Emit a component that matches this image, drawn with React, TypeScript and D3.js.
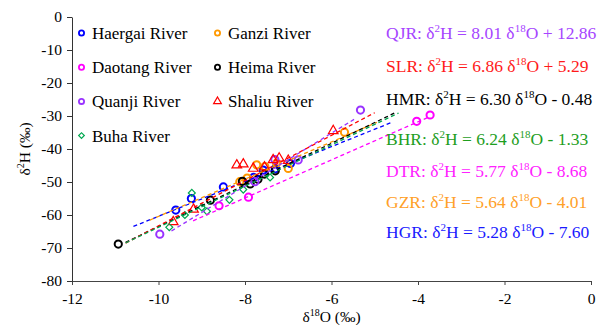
import { useRef, useEffect } from 'react';
import * as d3 from 'd3';

// river series: name, short code, colour, marker
const riverNames = ['Haergai River', 'Ganzi River', 'Daotang River', 'Heima River', 'Quanji River', 'Shaliu River', 'Buha River'];
const riverCodes = ['HGR', 'GZR', 'DTR', 'HMR', 'QJR', 'SLR', 'BHR'];
const riverColors = ['#0000FF', '#FF9900', '#FF00FF', '#000000', '#9933FF', '#FF0000', '#00A850'];
const riverShapes = ['circle', 'circle', 'circle', 'circle', 'circle', 'triangle', 'diamond'];

// d18O, d2H samples
const haergaiPoints = [[-9.6, -58.5], [-9.24, -55.0], [-8.5, -51.5], [-7.8, -48.6], [-7.58, -46.4], [-7.3, -46.0], [-6.95, -44.4]];
const ganziPoints = [[-8.12, -49.9], [-7.95, -48.8], [-7.73, -44.8], [-7.54, -45.3], [-7.27, -44.3], [-7.0, -45.9], [-5.7, -34.9]];
const daotangPoints = [[-8.6, -57.2], [-7.92, -54.6], [-4.03, -31.6], [-3.72, -29.7]];
const heimaPoints = [[-10.93, -68.8], [-8.8, -55.5], [-8.06, -49.8], [-7.88, -50.6], [-7.7, -49.2], [-7.55, -47.6], [-7.3, -46.6]];
const quanjiPoints = [[-9.97, -65.8], [-7.77, -49.9], [-7.31, -43.2], [-6.77, -43.3], [-5.33, -28.2]];
const shaliuPoints = [[-9.66, -62.1], [-9.19, -58.3], [-8.19, -44.9], [-8.04, -44.6], [-7.81, -45.9], [-7.55, -45.5], [-7.35, -43.3], [-7.21, -42.8], [-7.0, -43.5], [-5.96, -34.5]];
const buhaPoints = [[-9.75, -63.7], [-9.39, -60.0], [-9.23, -53.3], [-9.0, -57.7], [-8.88, -58.9], [-8.36, -55.4], [-8.04, -52.3], [-7.42, -48.6]];
const riverPoints = [haergaiPoints, ganziPoints, daotangPoints, heimaPoints, quanjiPoints, shaliuPoints, buhaPoints];

// fitted local meteoric water lines
const slopes = [5.28, 5.64, 5.77, 6.30, 8.01, 6.86, 6.24];
const intercepts = [-7.60, -4.01, -8.68, -0.48, 12.86, 5.29, -1.33];
const fitRanges = [[-10.58, -4.6], [-10.2, -4.95], [-9.2, -3.72], [-10.76, -4.5], [-9.7, -5.42], [-10.76, -5.0], [-10.76, -4.45]];

// equation list order (top to bottom)
const equationOrder = [4, 5, 3, 6, 2, 1, 0];
const equationColors = ['#1A1AFF', '#FFA028', '#FF22FF', '#000000', '#A645FF', '#FF1A1A', '#1E9E1E'];

const xTicks = [-12, -10, -8, -6, -4, -2, 0];
const yTicks = [0, -10, -20, -30, -40, -50, -60, -70, -80];

const width = 609;
const height = 325;
const marginLeft = 72;
const marginRight = 18;
const marginTop = 17;
const marginBottom = 44;
const font = '"Liberation Serif", "Times New Roman", serif';

function fmt(v: number) {
    return v.toFixed(2);
}

export default function App() {
    const svgRef = useRef<SVGSVGElement | null>(null);

    useEffect(() => {
        if (!svgRef.current) return;
        const svg = d3.select(svgRef.current);
        svg.selectAll('*').remove();

        const xScale = d3.scaleLinear().domain([-12, 0]).range([marginLeft, width - marginRight]);
        const yScale = d3.scaleLinear().domain([-80, 0]).range([height - marginBottom, marginTop]);

        // axes
        const xAxis = svg
            .append('g')
            .attr('transform', `translate(0,${yScale(-80)})`)
            .call(d3.axisBottom(xScale).tickValues(xTicks).tickSize(4).tickSizeOuter(0).tickFormat(d => `${d}`));
        xAxis.select('.domain').attr('stroke', '#444');
        xAxis.selectAll('.tick line').attr('stroke', '#444');
        xAxis
            .selectAll('.tick text')
            .attr('font-family', font)
            .attr('font-size', 15.5)
            .attr('fill', '#000')
            .attr('dy', '1.0em');

        const yAxis = svg
            .append('g')
            .attr('transform', `translate(${xScale(-12)},0)`)
            .call(d3.axisLeft(yScale).tickValues(yTicks).tickSize(5).tickSizeOuter(0).tickFormat(d => `${d}`));
        yAxis.select('.domain').attr('stroke', '#333');
        yAxis.selectAll('.tick line').attr('stroke', '#333');
        yAxis
            .selectAll('.tick text')
            .attr('font-family', font)
            .attr('font-size', 15.5)
            .attr('fill', '#000')
            .attr('x', -10);

        // axis titles
        const xTitle = svg
            .append('text')
            .attr('x', (xScale(-12) + xScale(0)) / 2)
            .attr('y', 322)
            .attr('text-anchor', 'middle')
            .attr('font-family', font)
            .attr('font-size', 15.5);
        xTitle.append('tspan').text('δ');
        xTitle.append('tspan').attr('font-size', 10).attr('dy', -6).text('18');
        xTitle.append('tspan').attr('dy', 6).text('O (‰)');

        const yTitle = svg
            .append('text')
            .attr('transform', `translate(30,${(yScale(0) + yScale(-80)) / 2}) rotate(-90)`)
            .attr('text-anchor', 'middle')
            .attr('font-family', font)
            .attr('font-size', 15.5);
        yTitle.append('tspan').text('δ');
        yTitle.append('tspan').attr('font-size', 10).attr('dy', -6).text('2');
        yTitle.append('tspan').attr('dy', 6).text('H (‰)');

        const drawMarker = (
            g: d3.Selection<SVGGElement, unknown, null, undefined>,
            shape: string,
            color: string,
            cx: number,
            cy: number,
            small: boolean
        ) => {
            if (shape === 'circle') {
                g.append('circle')
                    .attr('cx', cx)
                    .attr('cy', cy)
                    .attr('r', small ? 2.6 : 3.6)
                    .attr('fill', 'none')
                    .attr('stroke', color)
                    .attr('stroke-width', small ? 1.8 : 2);
            } else if (shape === 'triangle') {
                g.append('path')
                    .attr('d', d3.symbol(d3.symbolTriangle, small ? 26 : 40)())
                    .attr('transform', `translate(${cx},${cy})`)
                    .attr('fill', 'none')
                    .attr('stroke', color)
                    .attr('stroke-width', 1.2);
            } else {
                // square turned 45 degrees
                g.append('path')
                    .attr('d', d3.symbol(d3.symbolSquare, small ? 16 : 24)())
                    .attr('transform', `translate(${cx},${cy}) rotate(45)`)
                    .attr('fill', 'none')
                    .attr('stroke', color)
                    .attr('stroke-width', 1.2);
            }
        };

        // sample points
        const points = svg.append('g');
        riverPoints.forEach((pts, i) => {
            pts.forEach(([x, y]) => {
                drawMarker(points, riverShapes[i], riverColors[i], xScale(x), yScale(y), false);
            });
        });

        // regression lines
        const lines = svg.append('g');
        fitRanges.forEach((range, i) => {
            const seg = d3
                .line<number>()
                .x(d => xScale(d))
                .y(d => yScale(d * slopes[i] + intercepts[i]));
            lines
                .append('path')
                .attr('d', seg(range))
                .attr('fill', 'none')
                .attr('stroke', riverColors[i])
                .attr('stroke-width', 1.3)
                .attr('stroke-dasharray', '4,3');
        });

        // legend (two columns)
        const legend = svg.append('g');
        riverNames.forEach((name, k) => {
            const col = k % 2;
            const row = Math.floor(k / 2);
            const mx = col === 0 ? 81.5 : 217.5;
            const my = 33 + row * 34.2;
            drawMarker(legend, riverShapes[k], riverColors[k], mx, my, true);
            legend
                .append('text')
                .attr('x', mx + 10.5)
                .attr('y', my + 6)
                .attr('font-family', font)
                .attr('font-size', 17)
                .attr('fill', '#000')
                .text(name);
        });

        // equations
        const eqY = [39, 72, 104.5, 145, 177, 208, 238];
        equationOrder.forEach((ri, k) => {
            const b = intercepts[ri];
            const t = svg
                .append('text')
                .attr('x', 386)
                .attr('y', eqY[k])
                .attr('font-family', font)
                .attr('font-size', 17.5)
                .attr('fill', equationColors[ri]);
            t.append('tspan').text(`${riverCodes[ri]}: δ`);
            t.append('tspan').attr('font-size', 11).attr('dy', -7).text('2');
            t.append('tspan').attr('dy', 7).text(`H = ${fmt(slopes[ri])} δ`);
            t.append('tspan').attr('font-size', 11).attr('dy', -7).text('18');
            t.append('tspan').attr('dy', 7).text(`O ${b >= 0 ? '+' : '-'} ${fmt(Math.abs(b))}`);
        });
    }, []);

    return (
        <div style={{ position: 'fixed', left: 0, top: 0, width, height, background: 'white' }}>
            <svg ref={svgRef} width={width} height={height} style={{ display: 'block' }}></svg>
        </div>
    );
}
